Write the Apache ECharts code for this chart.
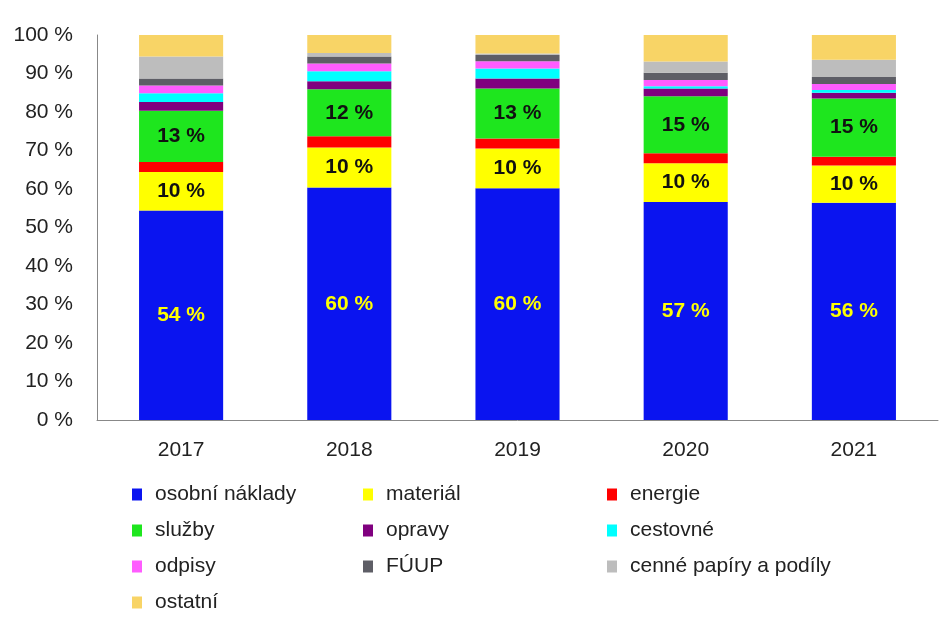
<!DOCTYPE html>
<html><head><meta charset="utf-8">
<script src="https://cdn.jsdelivr.net/npm/echarts@6/dist/echarts.min.js"></script>
<style>html,body{margin:0;padding:0;background:#fff}#c{width:940px;height:619px}</style>
</head><body><div id="c"></div>
<script>
const years = ['2017','2018','2019','2020','2021'];
const seriesNames = ['osobní náklady','materiál','energie','služby','opravy','cestovné','odpisy','FÚUP','cenné papíry a podíly','ostatní'];
const osobni   = [54.4, 60.4, 60.2, 56.6, 56.4];
const material = [10.0, 10.4, 10.3, 10.1, 9.7];
const energie  = [2.6, 2.9, 2.6, 2.6, 2.3];
const sluzby   = [13.3, 12.2, 13.0, 14.8, 15.1];
const opravy   = [2.3, 2.1, 2.6, 2.0, 1.5];
const cestovne = [2.3, 2.6, 2.6, 0.6, 0.7];
const odpisy   = [2.0, 2.0, 1.9, 1.6, 1.6];
const fuup     = [1.8, 1.8, 1.6, 1.9, 1.8];
const cenne    = [5.7, 0.9, 0.4, 2.9, 4.5];
const ostatni  = [5.6, 4.7, 4.8, 6.9, 6.4];
const yTicks = ['0 %','10 %','20 %','30 %','40 %','50 %','60 %','70 %','80 %','90 %','100 %'];

const values = [osobni, material, energie, sluzby, opravy, cestovne, odpisy, fuup, cenne, ostatni];
const colors = ['#0a14f0','#ffff00','#ff0000','#1ee61e','#80007f','#00ffff','#ff5cff','#5e5e66','#bdbdbd','#f8d466'];
const labelColor = {0:'#ffff00',1:'#111',3:'#111'};
const FONT = '"Liberation Sans Narrow","Liberation Sans",Arial,sans-serif';

const series = seriesNames.map((n,i)=>({
  name:n, type:'bar', stack:'s', barWidth:'50%',
  data: values[i],
  itemStyle:{color:colors[i]},
  label: labelColor[i] ? {show:true, position:'inside', fontFamily:FONT, fontSize:21, fontWeight:'bold',
     color:labelColor[i], formatter:p=>Math.round(p.value)+' %'} : {show:false},
  emphasis:{disabled:true}
}));

const legendCommon = {orient:'vertical', icon:'rect', itemWidth:10, itemHeight:12, itemGap:15,
  textStyle:{fontFamily:FONT, fontSize:21, color:'#222', padding:[0,0,0,8]}, selectedMode:false};

const chart = echarts.init(document.getElementById('c'));
chart.setOption({
  animation:false,
  grid:{left:97, right:2, top:35, bottom:199},
  xAxis:{type:'category', data:years,
    axisLine:{lineStyle:{color:'#888'}}, axisTick:{show:false},
    axisLabel:{fontFamily:FONT, fontSize:21, color:'#222', margin:20}},
  yAxis:{type:'value', min:0, max:100, interval:10,
    axisLine:{show:true, lineStyle:{color:'#888'}}, axisTick:{show:false}, splitLine:{show:false},
    axisLabel:{fontFamily:FONT, fontSize:21, color:'#222', margin:24, formatter:v=>yTicks[v/10]}},
  legend:[
    Object.assign({left:127, top:479, data:[seriesNames[0],seriesNames[3],seriesNames[6],seriesNames[9]]}, legendCommon),
    Object.assign({left:358, top:479, data:[seriesNames[1],seriesNames[4],seriesNames[7]]}, legendCommon),
    Object.assign({left:602, top:479, data:[seriesNames[2],seriesNames[5],seriesNames[8]]}, legendCommon)
  ],
  series
});
</script></body></html>
